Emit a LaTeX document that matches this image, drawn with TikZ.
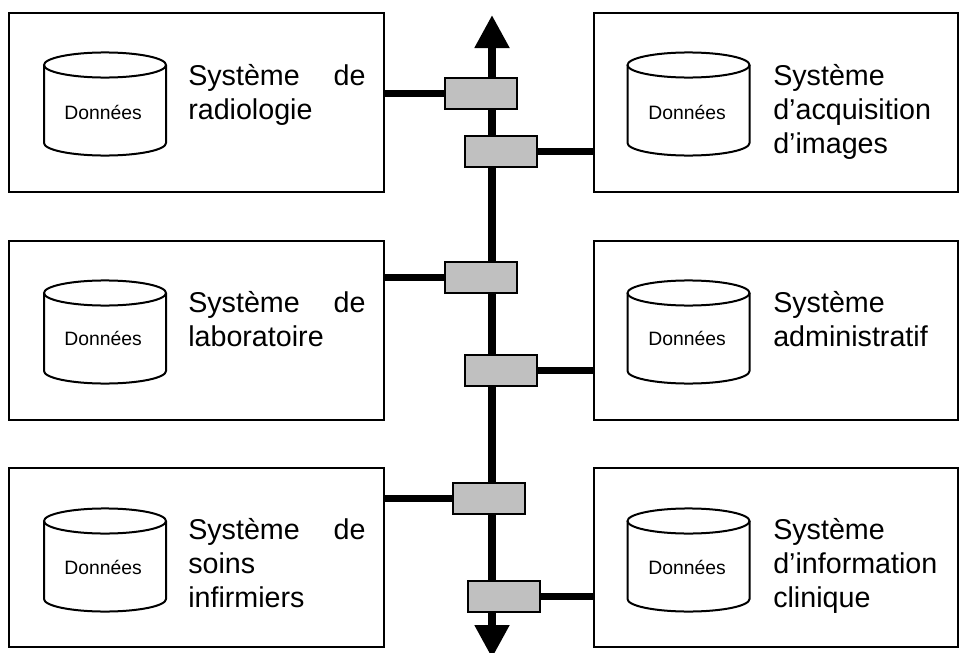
\documentclass[tikz,border=0pt]{standalone}
\usepackage{fontspec}
\setmainfont{Liberation Sans}
\usetikzlibrary{arrows.meta}
\definecolor{gwgray}{RGB}{192,192,192}

\begin{document}
\begin{tikzpicture}[x=0.75pt, y=-0.75pt,
  sysbox/.style={draw, line width=1.5pt, inner sep=0pt},
  lbox/.style={sysbox, minimum width=281.25pt, minimum height=134.25pt},
  rbox/.style={sysbox, minimum width=273pt, minimum height=134.25pt},
  dbline/.style={line width=1.5pt},
  dblabel/.style={inner sep=0pt, font=\fontsize{14.5}{17}\selectfont},
  systext/.style={anchor=base west, inner sep=0pt, align=left,
     text width=133pt, font=\fontsize{21.5}{25.5}\selectfont},
  gw/.style={draw, line width=1.5pt, fill=gwgray, minimum width=54pt,
     minimum height=23.25pt, inner sep=0pt},
  link/.style={line width=5.25pt},
  bus/.style={line width=6pt, {Triangle[length=24.75pt, width=24.75pt]}-{Triangle[length=24.75pt, width=24.75pt]}}]

\useasboundingbox (0,0) rectangle (961,653);

% the six systems
\node[lbox] (rad) at (196.5,102.5) {};
\node[rbox] (acq) at (776,102.5) {};
\node[lbox] (lab) at (196.5,330.5) {};
\node[rbox] (adm) at (776,330.5) {};
\node[lbox] (inf) at (196.5,557.5) {};
\node[rbox] (cli) at (776,557.5) {};

% data stores
\coordinate (db1) at (105,104);
\coordinate (db2) at (688.5,104);
\coordinate (db3) at (105,332);
\coordinate (db4) at (688.5,332);
\coordinate (db5) at (105,560);
\coordinate (db6) at (688.5,560);

\foreach \c in {db1,db2,db3,db4,db5,db6}{
  \draw[dbline] ([shift={(-45.75pt,29.25pt)}]\c) -- ([shift={(-45.75pt,-29.25pt)}]\c)
     arc[start angle=180, end angle=360, x radius=45.75pt, y radius=9.4pt]
     -- ([shift={(45.75pt,29.25pt)}]\c);
  \draw[dbline] ([shift={(0pt,29.25pt)}]\c) ellipse[x radius=45.75pt, y radius=9.4pt];
}

\node[dblabel] (dl1) at (103,112) {Données};
\node[dblabel] (dl2) at (687,112) {Données};
\node[dblabel] (dl3) at (103,338) {Données};
\node[dblabel] (dl4) at (687,338) {Données};
\node[dblabel] (dl5) at (103,567) {Données};
\node[dblabel] (dl6) at (687,567) {Données};

\node[systext] (trad) at (188,85) {Système\hfill de\\radiologie};
\node[systext] (tacq) at (773,85) {Système\\d’acquisition\\d’images};
\node[systext] (tlab) at (188,312) {Système\hfill de\\laboratoire};
\node[systext] (tadm) at (773,312) {Système\\administratif};
\node[systext] (tinf) at (188,539) {Système\hfill de\\soins\\infirmiers};
\node[systext] (tcli) at (773,539) {Système\\d’information\\clinique};

% bus
\coordinate (top) at (492,15);
\coordinate (bot) at (492,658);
\draw[bus] (bot) -- (top);

% gateways
\node[gw] (gw1) at (481,93.5) {};
\node[gw] (gw2) at (500.5,151.5) {};
\node[gw] (gw3) at (481,277.5) {};
\node[gw] (gw4) at (501,370.5) {};
\node[gw] (gw5) at (488.5,498.5) {};
\node[gw] (gw6) at (504,596.5) {};

\draw[link] (gw1.west) -- (gw1.west -| rad.east);
\draw[link] (gw2.east) -- (gw2.east -| acq.west);
\draw[link] (gw3.west) -- (gw3.west -| lab.east);
\draw[link] (gw4.east) -- (gw4.east -| adm.west);
\draw[link] (gw5.west) -- (gw5.west -| inf.east);
\draw[link] (gw6.east) -- (gw6.east -| cli.west);

\end{tikzpicture}
\end{document}
